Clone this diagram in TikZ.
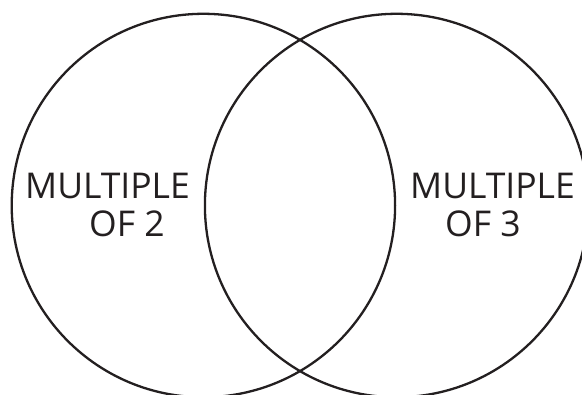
\documentclass[tikz,border=0pt]{standalone}
\usepackage{fontspec}
\setmainfont{Open Sans}
\definecolor{ink}{HTML}{231F20}
\begin{document}
\begin{tikzpicture}[x=1pt,y=-1pt,
  ring/.style={draw=ink,line width=2.3pt},
  lbl/.style={anchor=base west,inner sep=0pt,text=ink,font=\fontsize{35.5}{40}\selectfont}]
\useasboundingbox (0,0) rectangle (582,395);
\clip (0,0) rectangle (582,395);
\fill[white] (0,0) rectangle (582,395);
\coordinate (cl) at (203.4,205.5);
\coordinate (cr) at (396.6,205.5);
\draw[ring] (cl) circle[radius=191.7pt];
\draw[ring] (cr) circle[radius=191.7pt];
\node[lbl] (l1) at (25,198.5) {MULTIPLE};
\node[lbl] (l2) at (89,237) {OF 2};
\node[lbl] (r1) at (410,198.5) {MULTIPLE};
\node[lbl] (r2) at (445,237) {OF 3};
\end{tikzpicture}
\end{document}
